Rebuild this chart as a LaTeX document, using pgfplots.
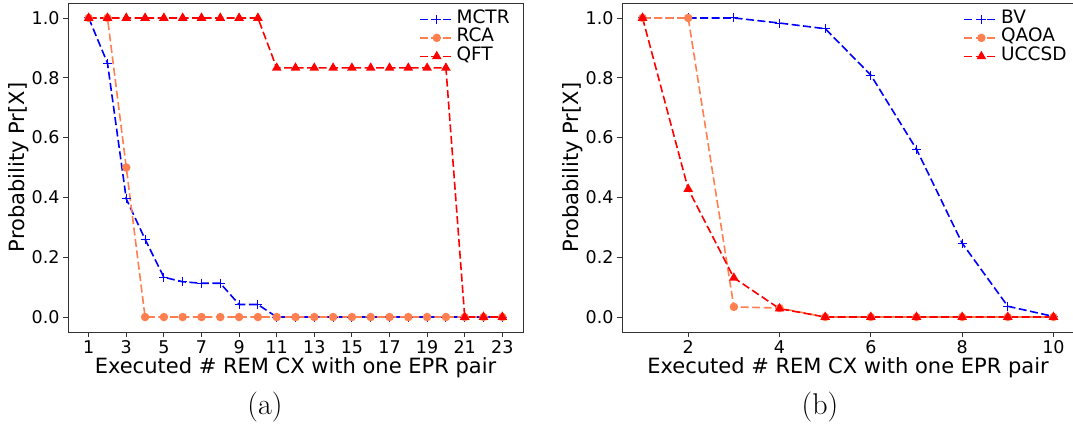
\documentclass[border=0pt]{standalone}
\usepackage{pgfplots}
\pgfplotsset{compat=1.18}
\usepackage{fontspec}
\newfontfamily\djv{DejaVu Sans}

\definecolor{coral}{RGB}{255,127,80}

\pgfplotsset{
  remaxis/.style={
    scale only axis,
    font=\djv,
    ymin=-0.05, ymax=1.05,
    ytick={0,0.2,0.4,0.6,0.8,1.0},
    yticklabel style={/pgf/number format/fixed, /pgf/number format/fixed zerofill, /pgf/number format/precision=1},
    /pgf/number format/assume math mode=true,
    tick label style={font=\djv\fontsize{17.5}{20}\selectfont},
    label style={font=\djv\fontsize{21}{24}\selectfont},
    xlabel={Executed \# REM CX with one EPR pair},
    ylabel={Probability Pr[X]},
    tick align=outside, major tick length=5pt,
    xtick pos=bottom, ytick pos=left,
    axis line style={line width=0.9pt, black!80},
    tick style={line width=0.9pt, black!80},
    enlarge x limits=0.05,
    legend cell align=left,
    legend style={draw=none, fill=none, at={(0.982,0.985)}, anchor=north east,
      font=\djv\fontsize{18.5}{20}\selectfont, row sep=0pt, column sep=0pt,
      nodes={inner ysep=0pt, inner xsep=2pt, text height=13pt, text depth=5.5pt}},
    legend image code/.code={\draw[mark repeat=2, mark phase=2, #1]
      plot coordinates {(0pt,0pt) (17pt,0pt) (34pt,0pt)};},
    every axis plot/.append style={line width=1.6pt, dash pattern=on 8pt off 3.5pt},
  },
  sblue/.style={blue, mark=+, mark size=4.5pt, mark options={solid, line width=1pt}},
  scoral/.style={coral, mark=*, mark size=3.4pt, mark options={solid, draw=coral, fill=coral}},
  sred/.style={red, mark=triangle*, mark size=4pt, mark options={solid, draw=red, fill=red}},
}

\begin{document}
\begin{tikzpicture}
\useasboundingbox (0pt,0pt) rectangle (1073pt,426pt);

\begin{axis}[remaxis, at={(68pt,94pt)}, anchor=south west,
  width=455pt, height=329pt,
  xmin=1, xmax=23,
  xtick={1,3,5,7,9,11,13,15,17,19,21,23},
  xlabel style={yshift=3pt}, ylabel style={yshift=-4pt}]
\addplot[sblue] coordinates {
 (1,1.0) (2,0.849) (3,0.395) (4,0.26) (5,0.133) (6,0.118) (7,0.113) (8,0.113)
 (9,0.042) (10,0.042) (11,0) (12,0) (13,0) (14,0) (15,0) (16,0) (17,0) (18,0)
 (19,0) (20,0) (21,0) (22,0) (23,0)};
\addlegendentry{MCTR}
\addplot[scoral] coordinates {
 (1,1.0) (2,1.0) (3,0.50) (4,0) (5,0) (6,0) (7,0) (8,0) (9,0) (10,0) (11,0)
 (12,0) (13,0) (14,0) (15,0) (16,0) (17,0) (18,0) (19,0) (20,0) (21,0) (22,0) (23,0)};
\addlegendentry{RCA}
\addplot[sred] coordinates {
 (1,1.0) (2,1.0) (3,1.0) (4,1.0) (5,1.0) (6,1.0) (7,1.0) (8,1.0) (9,1.0) (10,1.0)
 (11,0.833) (12,0.833) (13,0.833) (14,0.833) (15,0.833) (16,0.833) (17,0.833)
 (18,0.833) (19,0.833) (20,0.833) (21,0) (22,0) (23,0)};
\addlegendentry{QFT}
\end{axis}

\begin{axis}[remaxis, at={(622pt,94pt)}, anchor=south west,
  width=452pt, height=329pt,
  xmin=1, xmax=10,
  xtick={2,4,6,8,10},
  legend style={at={(0.995,0.985)}},
  xlabel style={yshift=3pt}, ylabel style={yshift=-4pt}]
\addplot[sblue] coordinates {
 (1,1.0) (2,1.0) (3,1.0) (4,0.983) (5,0.964) (6,0.809) (7,0.561) (8,0.247)
 (9,0.036) (10,0.002)};
\addlegendentry{BV}
\addplot[scoral] coordinates {
 (1,1.0) (2,1.0) (3,0.034) (4,0.030) (5,0) (6,0) (7,0) (8,0) (9,0) (10,0)};
\addlegendentry{QAOA}
\addplot[sred] coordinates {
 (1,1.0) (2,0.428) (3,0.131) (4,0.028) (5,0) (6,0) (7,0) (8,0) (9,0) (10,0)};
\addlegendentry{UCCSD}
\end{axis}

\node[font=\fontsize{30}{34}\selectfont] at (265pt,19pt) {(a)};
\node[font=\fontsize{30}{34}\selectfont] at (820pt,19pt) {(b)};
\end{tikzpicture}
\end{document}
